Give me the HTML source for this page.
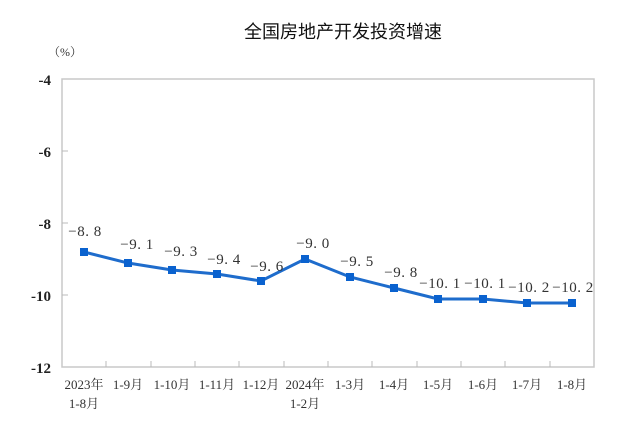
<!DOCTYPE html>
<html><head><meta charset="utf-8"><style>
html,body{margin:0;padding:0;background:#fff;}
svg{display:block}
.s{font-family:"Liberation Serif","Noto Serif CJK SC",serif;}
</style></head><body>
<svg width="639" height="434" xmlns="http://www.w3.org/2000/svg">
<text x="343" y="38" text-anchor="middle" font-family="'Liberation Sans','Noto Sans CJK SC',sans-serif" font-size="18" fill="#111">全国房地产开发投资增速</text>
<text x="48" y="56" font-family="'Liberation Serif','Noto Serif CJK SC',serif" font-size="12" fill="#333">（%）</text>
<rect x="62" y="79" width="532" height="288" fill="none" stroke="#c8c8c8" stroke-width="1.5"/>
<g stroke="#bbb" stroke-width="1">
<line x1="62" y1="151" x2="68" y2="151"/><line x1="62" y1="223" x2="68" y2="223"/><line x1="62" y1="295" x2="68" y2="295"/>
<line x1="106" y1="361" x2="106" y2="367"/><line x1="151" y1="361" x2="151" y2="367"/><line x1="195" y1="361" x2="195" y2="367"/><line x1="239" y1="361" x2="239" y2="367"/><line x1="284" y1="361" x2="284" y2="367"/><line x1="328" y1="361" x2="328" y2="367"/><line x1="372" y1="361" x2="372" y2="367"/><line x1="417" y1="361" x2="417" y2="367"/><line x1="461" y1="361" x2="461" y2="367"/><line x1="505" y1="361" x2="505" y2="367"/><line x1="550" y1="361" x2="550" y2="367"/>
</g>
<g class="s" font-size="15" font-weight="bold" fill="#222" text-anchor="end">
<text x="51" y="85">-4</text><text x="51" y="157">-6</text><text x="51" y="229">-8</text><text x="51" y="301">-10</text><text x="51" y="373">-12</text>
</g>
<polyline fill="none" stroke="#1e6ccc" stroke-width="3" points="84,252 128,263 172,270 217,274 261,281 305,259 350,277 394,288 438,299 483,299 527,303 572,303"/>
<g fill="#0a62cf">
<rect x="80" y="248" width="8" height="8"/><rect x="124" y="259" width="8" height="8"/><rect x="168" y="266" width="8" height="8"/><rect x="213" y="270" width="8" height="8"/><rect x="257" y="277" width="8" height="8"/><rect x="301" y="255" width="8" height="8"/><rect x="346" y="273" width="8" height="8"/><rect x="390" y="284" width="8" height="8"/><rect x="434" y="295" width="8" height="8"/><rect x="479" y="295" width="8" height="8"/><rect x="523" y="299" width="8" height="8"/><rect x="568" y="299" width="8" height="8"/>
</g>
<g class="s" font-size="15" fill="#333" text-anchor="middle" letter-spacing="0.5">
<text x="85" y="236">−8. 8</text><text x="137" y="249">−9. 1</text><text x="181" y="256">−9. 3</text><text x="224" y="264">−9. 4</text><text x="267" y="271">−9. 6</text><text x="313" y="248">−9. 0</text><text x="357" y="266">−9. 5</text><text x="401" y="277">−9. 8</text><text x="440" y="288">−10. 1</text><text x="485" y="288">−10. 1</text><text x="529" y="292">−10. 2</text><text x="573" y="292">−10. 2</text>
</g>
<g class="s" font-size="13" fill="#333" text-anchor="middle">
<text x="84" y="389">2023年</text><text x="84" y="408">1-8月</text>
<text x="128" y="389">1-9月</text><text x="172" y="389">1-10月</text><text x="217" y="389">1-11月</text><text x="261" y="389">1-12月</text>
<text x="305" y="389">2024年</text><text x="305" y="408">1-2月</text>
<text x="350" y="389">1-3月</text><text x="394" y="389">1-4月</text><text x="438" y="389">1-5月</text><text x="483" y="389">1-6月</text><text x="527" y="389">1-7月</text><text x="572" y="389">1-8月</text>
</g>
</svg>
</body></html>
